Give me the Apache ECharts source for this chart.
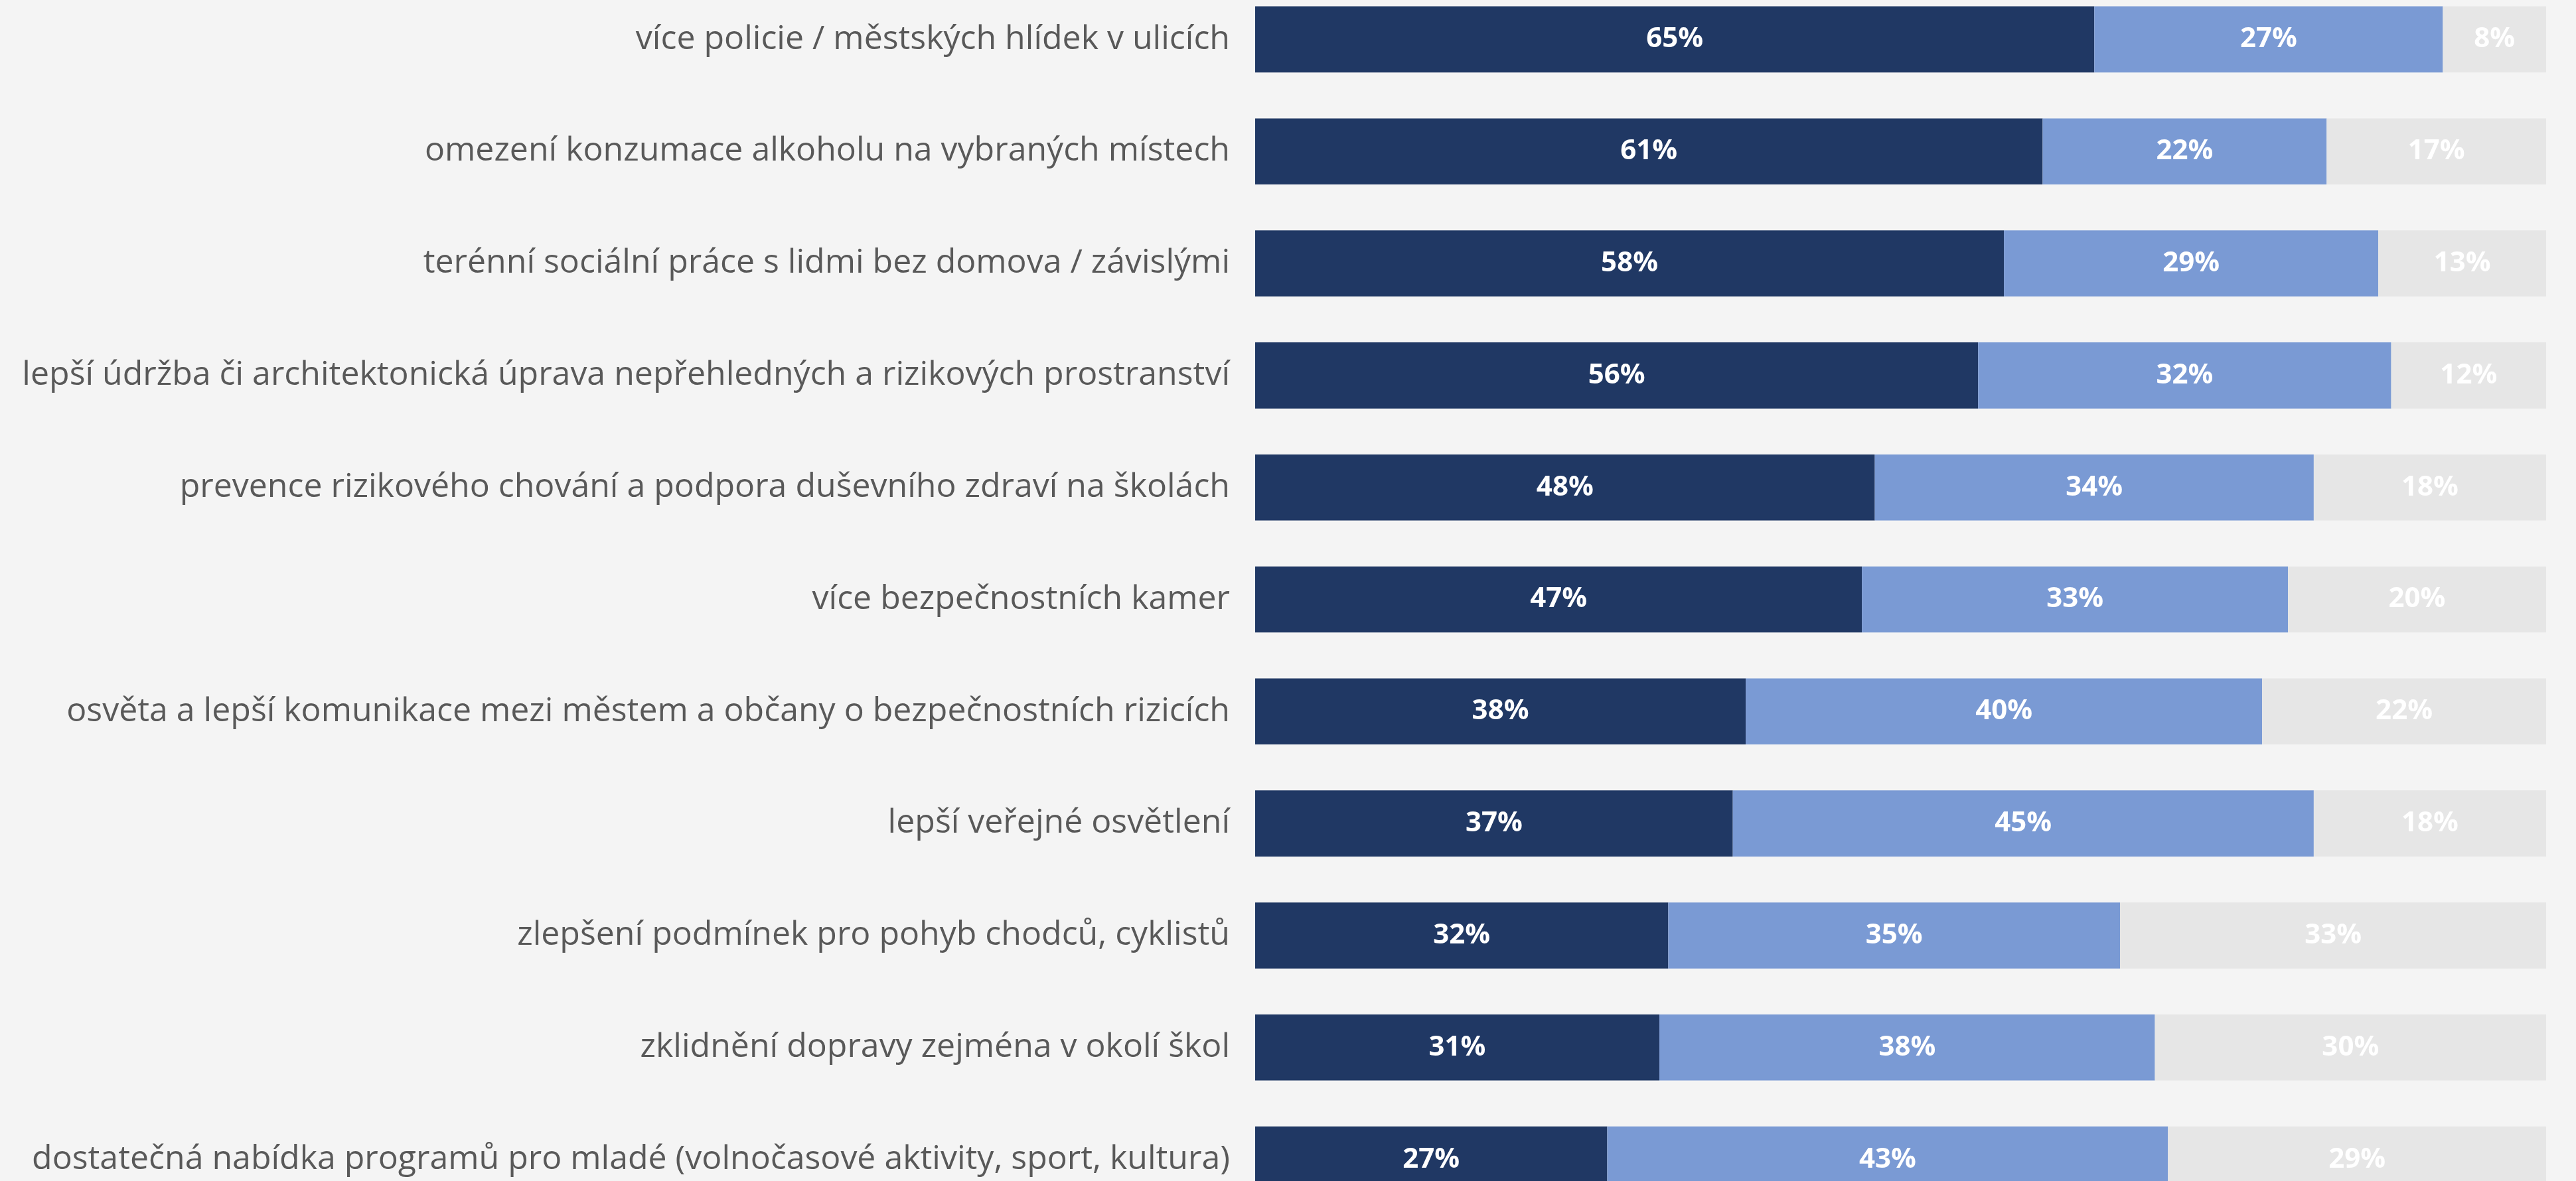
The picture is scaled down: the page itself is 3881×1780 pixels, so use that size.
<!DOCTYPE html>
<html>
<head>
<meta charset="utf-8">
<script src="https://cdn.jsdelivr.net/npm/echarts@6/dist/echarts.min.js"></script>
<style>
  html, body { margin: 0; padding: 0; background: #f4f4f4; overflow: hidden; width: 3881px; height: 1780px; position: relative; }
  /* the plot runs a little past the top and bottom edges of the page */
  #chart { position: absolute; left: 0; top: -25px; width: 3881px; height: 1857px; }
</style>
</head>
<body>
<div id="chart"></div>
<script>
// Opatření ke zvýšení bezpečnosti – podíl odpovědí (v %)
const categories = [
  'více policie / městských hlídek v ulicích',
  'omezení konzumace alkoholu na vybraných místech',
  'terénní sociální práce s lidmi bez domova / závislými',
  'lepší údržba či architektonická úprava nepřehledných a rizikových prostranství',
  'prevence rizikového chování a podpora duševního zdraví na školách',
  'více bezpečnostních kamer',
  'osvěta a lepší komunikace mezi městem a občany o bezpečnostních rizicích',
  'lepší veřejné osvětlení',
  'zlepšení podmínek pro pohyb chodců, cyklistů',
  'zklidnění dopravy zejména v okolí škol',
  'dostatečná nabídka programů pro mladé (volnočasové aktivity, sport, kultura)'
];
const first  = [65, 61, 58, 56, 48, 47, 38, 37, 32, 31, 27];
const second = [27, 22, 29, 32, 34, 33, 40, 45, 35, 38, 43];
const third  = [8, 17, 13, 12, 18, 20, 22, 18, 33, 30, 29];

const seriesValues = [first, second, third];
const seriesColors = ['#203864', '#7a9ad4', '#e6e6e6'];

// each row is drawn as a 100 % stacked bar
const rowTotals = categories.map((_, i) => first[i] + second[i] + third[i]);

const chart = echarts.init(document.getElementById('chart'));
chart.setOption({
  backgroundColor: '#f4f4f4',
  animation: false,
  grid: { left: 1891, right: 45, top: 0, bottom: 0, containLabel: false },
  xAxis: {
    type: 'value', min: 0, max: 100, show: false
  },
  yAxis: {
    type: 'category',
    inverse: true,
    data: categories,
    axisLine: { show: false },
    axisTick: { show: false },
    splitLine: { show: false },
    axisLabel: {
      margin: 38,
      color: '#595959',
      fontFamily: '"Open Sans", "Noto Sans", sans-serif',
      fontWeight: 400,
      fontSize: 50
    }
  },
  series: seriesValues.map((vals, s) => ({
    type: 'bar',
    stack: 'total',
    barCategoryGap: '41%',
    itemStyle: { color: seriesColors[s] },
    label: {
      show: true,
      position: 'inside',
      color: '#ffffff',
      fontFamily: '"Open Sans", "Noto Sans", sans-serif',
      fontWeight: 'bold',
      fontSize: 42,
      formatter: p => vals[p.dataIndex] + '%'
    },
    data: vals.map((v, i) => v / rowTotals[i] * 100)
  }))
});
</script>
</body>
</html>
